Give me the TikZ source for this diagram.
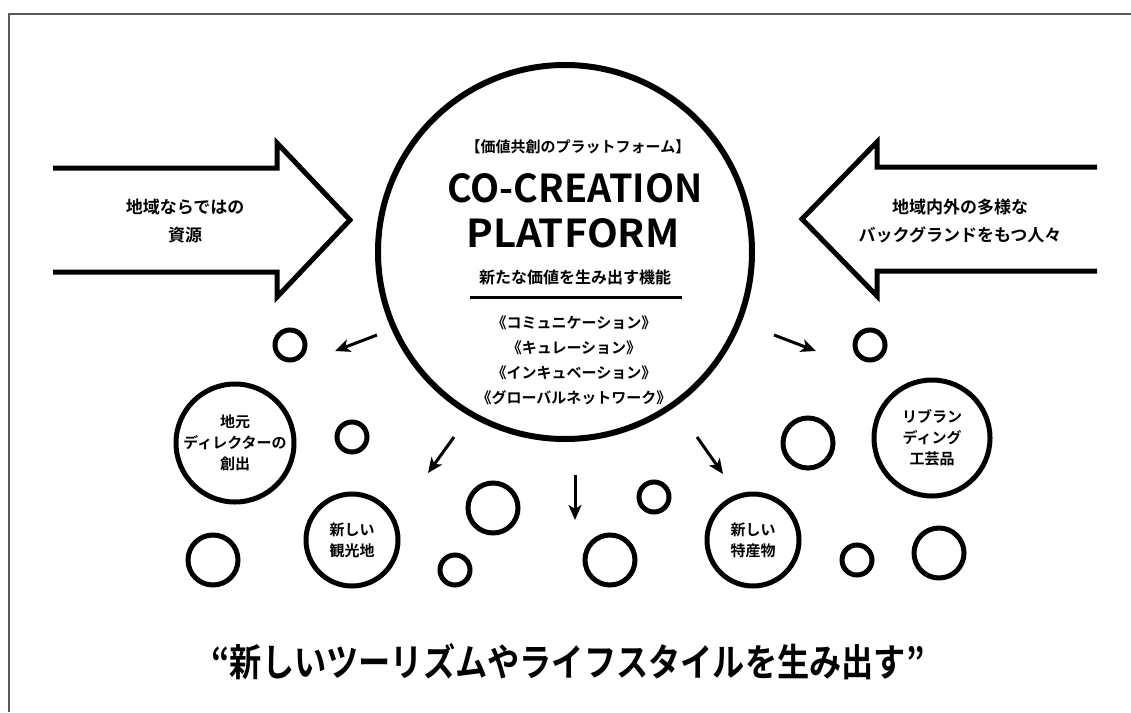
\documentclass[tikz,border=0pt]{standalone}
\usepackage{fontspec}
\setmainfont{Noto Sans CJK JP}[BoldFont={Noto Sans CJK JP Bold}]
\usetikzlibrary{arrows.meta}

\begin{document}
\begin{tikzpicture}[
      x=1pt, y=-1pt,
      frame/.style={draw=black!65, line width=2pt},
      hub/.style={circle, draw, line width=6pt, minimum size=374pt, inner sep=0pt},
      bubble/.style={circle, draw, line width=5pt, inner sep=0pt},
      small/.style={bubble, minimum size=30pt},
      medium/.style={bubble, minimum size=50pt},
      topic/.style={bubble, align=center, font=\fontsize{15}{21}\selectfont\bfseries},
      inflow/.style={draw, line width=5pt, miter limit=10},
      outflow/.style={line width=3pt, -{Stealth[length=15pt,width=13pt,inset=4pt]}},
      caption/.style={align=center, font=\fontsize{17}{28}\selectfont\bfseries},
      label/.style={align=center, font=\fontsize{15}{25}\selectfont\bfseries},
  ]
    \useasboundingbox (0,0) rectangle (1131,712);
    \draw[frame] (9,712) -- (9,14) -- (1131,14);

    \node[hub] (hub) at (565,252) {};
    \node[label] (tag) at (578,147) {【価値共創のプラットフォーム】};
    \node (title) at (575,188) {\resizebox{255pt}{29pt}{\bfseries CO-CREATION}};
    \node (title2) at (573,233) {\resizebox{213pt}{29pt}{\bfseries PLATFORM}};
    \node[label, font=\fontsize{16}{25}\selectfont\bfseries] (role) at (575,277) {新たな価値を生み出す機能};
    \draw[line width=3pt] (470,297) -- (682,297);
    \node[label] (funcs) at (574,360) {《コミュニケーション》\\《キュレーション》\\《インキュベーション》\\《グローバルネットワーク》};

    \draw[inflow] (53,168) -- (277,168) -- (277,143) -- (350,220) -- (277,297) -- (277,272) -- (53,272);
    \node[caption] (local) at (185,221) {地域ならではの\\資源};
    \draw[inflow] (1097,167) -- (877,167) -- (877,142) -- (802,219) -- (877,296) -- (877,271) -- (1097,271);
    \node[caption] (people) at (960,221) {地域内外の多様な\\バックグランドをもつ人々};

    \node[small] (b1) at (290,345) {};
    \node[topic, minimum size=118pt] (director) at (235,443) {地元\\ディレクターの\\創出};
    \node[small] (b2) at (352,437) {};
    \node[topic, minimum size=92pt] (sights) at (352,540) {新しい\\観光地};
    \node[medium] (b3) at (493,508) {};
    \node[medium] (b4) at (213,560) {};
    \node[small] (b5) at (455,570) {};
    \node[medium] (b6) at (610,560) {};
    \node[small] (b7) at (654,497) {};
    \node[topic, minimum size=92pt] (goods) at (753,540) {新しい\\特産物};
    \node[medium] (b8) at (808,443) {};
    \node[small] (b9) at (870,345) {};
    \node[topic, minimum size=116pt] (crafts) at (932,438) {リブラン\\ディング\\工芸品};
    \node[small] (b10) at (857,560) {};
    \node[medium] (b11) at (939,553) {};

    \coordinate (o1) at (377,335); \coordinate (t1) at (335,351);
    \coordinate (o2) at (454,437); \coordinate (t2) at (428,473);
    \coordinate (o3) at (575,475); \coordinate (t3) at (575,520);
    \coordinate (o4) at (774,335); \coordinate (t4) at (816,351);
    \coordinate (o5) at (697,437); \coordinate (t5) at (723,474);
    \foreach \i in {1,...,5}
      \draw[outflow] (o\i) -- (t\i);

    \node (motto) at (568,662) {\resizebox{713pt}{33pt}{\fontsize{32}{32}\selectfont\bfseries “新しいツーリズムやライフスタイルを生み出す”}};
\end{tikzpicture}
\end{document}
